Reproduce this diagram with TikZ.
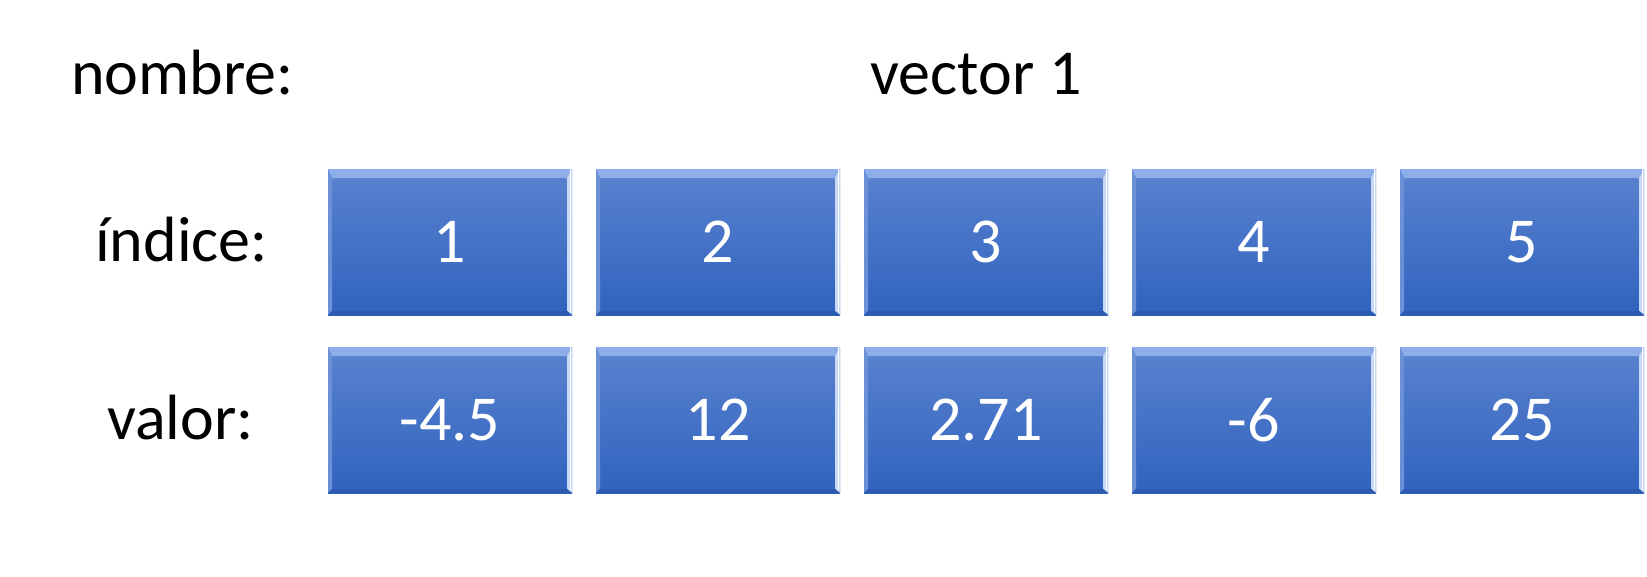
\documentclass[tikz,border=0pt]{standalone}
\usepackage{fontspec}
\setmainfont{Carlito}
\definecolor{cellTop}{HTML}{5A82CF}
\definecolor{cellBot}{HTML}{3063BE}
\definecolor{bevTop}{HTML}{8DAEE8}
\definecolor{bevRight}{HTML}{C8D9F6}
\definecolor{bevLeft}{HTML}{6B90D6}
\definecolor{bevBot}{HTML}{2C5AB0}
\tikzset{
  lbl/.style={anchor=base west, inner sep=0pt, font=\fontsize{64}{77}\selectfont, text=black},
  cell/.style={rectangle, minimum width=244pt, minimum height=146pt, inner sep=0pt,
    top color=cellTop, bottom color=cellBot, text=white,
    font=\fontsize{64}{77}\selectfont,
    path picture={
      \fill[bevTop] (path picture bounding box.north west) -- (path picture bounding box.north east)
        -- ([xshift=-5pt,yshift=-9pt]path picture bounding box.north east)
        -- ([xshift=4pt,yshift=-9pt]path picture bounding box.north west) -- cycle;
      \fill[bevRight] (path picture bounding box.north east) -- (path picture bounding box.south east)
        -- ([xshift=-5pt,yshift=4pt]path picture bounding box.south east)
        -- ([xshift=-5pt,yshift=-9pt]path picture bounding box.north east) -- cycle;
      \fill[white] ([xshift=-2.5pt]path picture bounding box.north east) rectangle ([xshift=-1.2pt,yshift=3pt]path picture bounding box.south east);
      \fill[bevLeft] (path picture bounding box.north west) -- ([xshift=4pt,yshift=-9pt]path picture bounding box.north west)
        -- ([xshift=4pt,yshift=4pt]path picture bounding box.south west) -- (path picture bounding box.south west) -- cycle;
      \fill[bevBot] (path picture bounding box.south west) -- ([xshift=4pt,yshift=4pt]path picture bounding box.south west)
        -- ([xshift=-5pt,yshift=4pt]path picture bounding box.south east) -- (path picture bounding box.south east) -- cycle;
    }}
}
\begin{document}
\begin{tikzpicture}[x=1pt,y=-1pt]
\useasboundingbox[fill=white] (0,0) rectangle (1647,576);
\node[lbl] (nombre) at (71,94) {nombre:};
\node[lbl, anchor=base] (vname) at (976,94) {vector 1};
\node[lbl] (indice) at (95,261) {índice:};
\node[lbl] (valor) at (107,439) {valor:};
\node[cell] (i1) at (450,242) {1};
\node[cell] (i2) at (718,242) {2};
\node[cell] (i3) at (986,242) {3};
\node[cell] (i4) at (1254,242) {4};
\node[cell] (i5) at (1522,242) {5};
\node[cell] (v1) at (450,420) {-4.5};
\node[cell] (v2) at (718,420) {12};
\node[cell] (v3) at (986,420) {2.71};
\node[cell] (v4) at (1254,420) {-6};
\node[cell] (v5) at (1522,420) {25};
\end{tikzpicture}
\end{document}
